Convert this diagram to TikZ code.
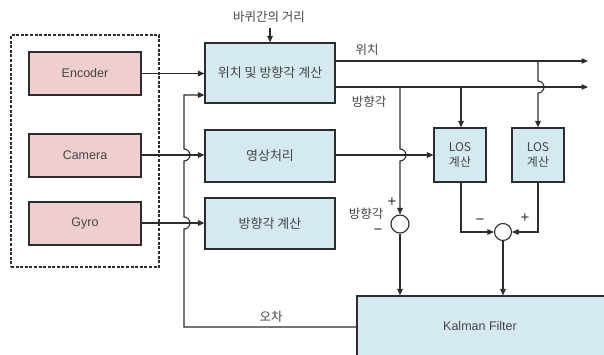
\documentclass[tikz,border=0pt]{standalone}
\usepackage{fontspec}
\setmainfont{Liberation Sans}
\newfontfamily\kr{Noto Sans CJK KR}
\usetikzlibrary{arrows.meta}
\definecolor{pinkfill}{RGB}{238,206,206}
\definecolor{bluefill}{RGB}{213,233,240}
\definecolor{ln}{RGB}{45,45,45}
\definecolor{tx}{RGB}{70,70,70}
\begin{document}
\begin{tikzpicture}[x=1pt,y=-1pt,
  sensor/.style={draw=ln, line width=1.1pt, fill=pinkfill, minimum width=112pt, minimum height=43pt, text=tx, font=\fontsize{12.5}{14}\selectfont, inner sep=0pt},
  proc/.style={draw=ln, line width=1.1pt, fill=bluefill, text=tx, font=\kr\fontsize{13}{15}\selectfont, inner sep=0pt, align=center},
  sumnode/.style={circle, draw=ln, line width=1.1pt, fill=white, inner sep=0pt},
  lbl/.style={text=tx, font=\kr\fontsize{12.5}{14}\selectfont, inner sep=0pt},
  sign/.style={text=ln, font=\fontsize{15}{15}\selectfont, inner sep=0pt},
  conn/.style={draw=ln, line width=1.1pt},
  arr/.style={conn, -{Triangle[length=6.5pt,width=5.5pt]}},
]
\useasboundingbox (0,0) rectangle (604,355);
\clip (0,0) rectangle (604,355);

% sensor group
\node[draw=ln, line width=1.6pt, dash pattern=on 3pt off 1.6pt, minimum width=148pt, minimum height=232pt, inner sep=0pt] (group) at (85,151) {};
\node[sensor] (enc) at (85,73.5) {Encoder};
\node[sensor] (cam) at (85,155.5) {Camera};
\node[sensor] (gyro) at (85,223.5) {Gyro};

% processing boxes
\node[proc, minimum width=130pt, minimum height=60pt] (pos) at (270,73) {위치 및 방향각 계산};
\node[proc, minimum width=130pt, minimum height=52pt] (img) at (270,156) {영상처리};
\node[proc, minimum width=130pt, minimum height=51pt] (head) at (270,223.5) {방향각 계산};
\node[proc, minimum width=52pt, minimum height=54pt, font=\kr\fontsize{12}{15}\selectfont] (los1) at (460,155) {LOS\\계산};
\node[proc, minimum width=52pt, minimum height=54pt, font=\kr\fontsize{12}{15}\selectfont] (los2) at (538,155) {LOS\\계산};
\node[proc, minimum width=266pt, minimum height=84pt] (kal) at (490,338) {};
\node[text=tx, font=\fontsize{12.5}{14}\selectfont, inner sep=0pt] (kallbl) at (480,326) {Kalman Filter};

\node[sumnode, minimum size=18pt] (sumL) at (400,224) {};
\node[sumnode, minimum size=17pt] (sumR) at (503,232) {};

% labels
\node[lbl] (dist) at (269,17) {바퀴간의 거리};
\node[lbl] (lpos) at (367,50) {위치};
\node[lbl] (lhead) at (369,102) {방향각};
\node[lbl] (lhead2) at (366,214) {방향각};
\node[lbl] (lerr) at (271,317) {오차};
\node[sign] (pL) at (392,202) {+};
\node[sign] (mL) at (378,232) {−};
\node[sign] (mR) at (480,222) {−};
\node[sign] (pR) at (525,218) {+};

% coordinates
\coordinate (posA) at (335,61);
\coordinate (posB) at (335,87);
\coordinate (outA) at (588,61);
\coordinate (outB) at (588,87);
\coordinate (tapL) at (400,87);
\coordinate (hopL) at (400,149);
\coordinate (tap1) at (461,87);
\coordinate (tap2) at (538,61);
\coordinate (hop2) at (538,81);
\coordinate (c1) at (461,232);
\coordinate (c2) at (538,232);
\coordinate (kL) at (357,327);
\coordinate (fb0) at (184,327);
\coordinate (fbh1) at (184,229);
\coordinate (fbh2) at (184,161);
\coordinate (fbTop) at (184,95);

% connectors
\draw[arr] (enc.east) -- (pos.west |- enc.east);
\draw[arr] (cam.east |- 0,155) -- (img.west |- 0,155);
\draw[arr] (gyro.east |- 0,223) -- (head.west |- 0,223);
\draw[arr] (dist.south -| pos.north) ++(0,5) -- (pos.north);
\draw[arr] (posA) -- (outA);
\draw[arr] (posB) -- (outB);
\draw[arr] (img.east |- 0,155) -- (los1.west |- 0,155);
\draw[arr] (tapL) -- (hopL) arc[start angle=90, end angle=-90, radius=6pt] -- (sumL.north);
\draw[arr] (tap1) -- (los1.north -| tap1);
\draw[arr] (tap2) -- (hop2) arc[start angle=90, end angle=-90, radius=6pt] -- (los2.north -| tap2);
\draw[arr] (los1.south -| c1) -- (c1) -- (sumR.west);
\draw[arr] (los2.south -| c2) -- (c2) -- (sumR.east);
\draw[arr] (sumR.south) -- (sumR.south |- kal.north);
\draw[arr] (sumL.south) -- (sumL.south |- kal.north);
\draw[arr] (kal.west |- kL) -- (fb0) -- (fbh1) arc[start angle=-90, end angle=90, radius=6pt] -- (fbh2) arc[start angle=-90, end angle=90, radius=6pt] -- (fbTop) -- (pos.west |- fbTop);
\end{tikzpicture}
\end{document}
